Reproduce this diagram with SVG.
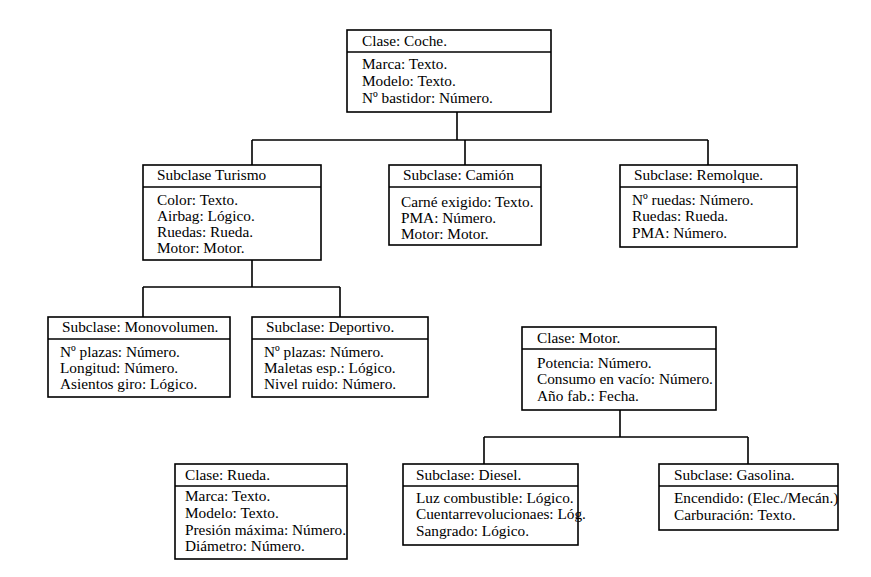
<svg xmlns="http://www.w3.org/2000/svg" width="871" height="577" viewBox="0 0 871 577">
<style>
rect.b{fill:#fff;stroke:#000;stroke-width:1.6}
line,path{stroke:#000;stroke-width:1.6;fill:none}
text{font-family:"Liberation Serif","Times New Roman",serif;font-size:15.3px;fill:#000}
</style>
<rect width="871" height="577" fill="#fff"/>
<g id="connectors">
<path d="M457 112V140M252 140H708M252 140V165M465 140V165M708 140V165"/>
<path d="M252 260V287M143 287H340M143 287V317M340 287V317"/>
<path d="M620 410V437M484 437H748M484 437V464M748 437V464"/>
</g>
<g id="coche">
<rect class="b" x="347" y="30" width="204" height="82"/><line x1="347" y1="52" x2="551" y2="52"/>
<text x="362" y="46">Clase: Coche.</text>
<text x="362" y="69">Marca: Texto.</text><text x="362" y="86">Modelo: Texto.</text><text x="362" y="103">Nº bastidor: Número.</text>
</g>
<g id="turismo">
<rect class="b" x="143" y="165" width="178" height="95"/><line x1="143" y1="187" x2="321" y2="187"/>
<text x="157" y="180">Subclase Turismo</text>
<text x="157" y="205">Color: Texto.</text><text x="157" y="221">Airbag: Lógico.</text><text x="157" y="237">Ruedas: Rueda.</text><text x="157" y="253">Motor: Motor.</text>
</g>
<g id="camion">
<rect class="b" x="389" y="165" width="152" height="80"/><line x1="389" y1="187" x2="541" y2="187"/>
<text x="403" y="180">Subclase: Camión</text>
<text x="401" y="207">Carné exigido: Texto.</text><text x="401" y="223">PMA: Número.</text><text x="401" y="239">Motor: Motor.</text>
</g>
<g id="remolque">
<rect class="b" x="620" y="165" width="177" height="82"/><line x1="620" y1="187" x2="797" y2="187"/>
<text x="634" y="180">Subclase: Remolque.</text>
<text x="632" y="205">Nº ruedas: Número.</text><text x="632" y="221">Ruedas: Rueda.</text><text x="632" y="238">PMA: Número.</text>
</g>
<g id="monovolumen">
<rect class="b" x="48" y="317" width="182" height="80"/><line x1="48" y1="339" x2="230" y2="339"/>
<text x="62" y="332">Subclase: Monovolumen.</text>
<text x="60" y="357">Nº plazas: Número.</text><text x="60" y="373">Longitud: Número.</text><text x="60" y="389">Asientos giro: Lógico.</text>
</g>
<g id="deportivo">
<rect class="b" x="252" y="317" width="176" height="80"/><line x1="252" y1="339" x2="428" y2="339"/>
<text x="266" y="332">Subclase: Deportivo.</text>
<text x="264" y="357">Nº plazas: Número.</text><text x="264" y="373">Maletas esp.: Lógico.</text><text x="264" y="389">Nivel ruido: Número.</text>
</g>
<g id="motor">
<rect class="b" x="522" y="327" width="194" height="83"/><line x1="522" y1="349" x2="716" y2="349"/>
<text x="537" y="343">Clase: Motor.</text>
<text x="537" y="368">Potencia: Número.</text><text x="537" y="384">Consumo en vacío: Número.</text><text x="537" y="401">Año fab.: Fecha.</text>
</g>
<g id="rueda">
<rect class="b" x="175" y="464" width="172" height="95"/><line x1="175" y1="486" x2="347" y2="486"/>
<text x="185" y="480">Clase: Rueda.</text>
<text x="185" y="501">Marca: Texto.</text><text x="185" y="518">Modelo: Texto.</text><text x="185" y="535">Presión máxima: Número.</text><text x="185" y="551">Diámetro: Número.</text>
</g>
<g id="diesel">
<rect class="b" x="403" y="464" width="175" height="81"/><line x1="403" y1="486" x2="578" y2="486"/>
<text x="416" y="480">Subclase: Diesel.</text>
<text x="416" y="503">Luz combustible: Lógico.</text><text x="416" y="519">Cuentarrevolucionaes: Lóg.</text><text x="416" y="536">Sangrado: Lógico.</text>
</g>
<g id="gasolina">
<rect class="b" x="659" y="464" width="179" height="66"/><line x1="659" y1="486" x2="838" y2="486"/>
<text x="674" y="480">Subclase: Gasolina.</text>
<text x="674" y="503">Encendido: (Elec./Mecán.)</text><text x="674" y="520">Carburación: Texto.</text>
</g>
</svg>
